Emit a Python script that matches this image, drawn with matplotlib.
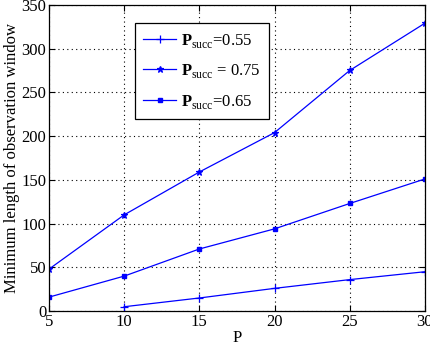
import matplotlib
matplotlib.use("Agg")
import matplotlib.pyplot as plt

plt.rcParams['font.family'] = ['Liberation Serif', 'DejaVu Serif']
plt.rcParams['mathtext.fontset'] = 'custom'
plt.rcParams['mathtext.rm'] = 'Liberation Serif'
plt.rcParams['mathtext.bf'] = 'Liberation Serif:bold'

# data
p_a = [10, 15, 20, 25, 30]
win_055 = [5, 15, 26, 36, 45]
p_b = [5, 10, 15, 20, 25, 30]
win_075 = [48, 110, 159, 204, 275, 329]
win_065 = [16, 40, 71, 94, 123, 151]

fig = plt.figure(figsize=(4.3, 3.48), dpi=100)
ax = fig.add_axes([0.114, 0.106, 0.874, 0.880])

ax.plot(p_a, win_055, color='blue', lw=0.9, marker='+', ms=6, mew=0.9,
        label=r'$\mathbf{P}_{\rm succ}$=0.55')
ax.plot(p_b, win_075, color='blue', lw=0.9, marker='*', ms=5, mew=0.9,
        label=r'$\mathbf{P}_{\rm succ}$ = 0.75')
ax.plot(p_b, win_065, color='blue', lw=0.9, marker='s', ms=3,
        label=r'$\mathbf{P}_{\rm succ}$=0.65')

ax.set_xlim(5, 30)
ax.set_ylim(0, 350)
ax.set_xticks([5, 10, 15, 20, 25, 30])
ax.set_yticks(range(0, 351, 50))
ax.grid(True, color='black', linestyle=(0, (1, 3)), lw=0.8)
ax.tick_params(direction='in', length=4, labelsize=12, top=True, right=True)
ax.tick_params(axis='x', pad=2)
ax.tick_params(axis='y', pad=2)
for s in ax.spines.values():
    s.set_linewidth(0.9)

ax.set_xlabel('P', fontsize=12, labelpad=0)
ax.set_ylabel('Minimum length of observation window', fontsize=12, labelpad=1)

leg = ax.legend(loc='upper left', bbox_to_anchor=(0.228, 0.94), fontsize=12,
                fancybox=False, edgecolor='black', framealpha=1,
                handlelength=2.0, borderpad=0.5, labelspacing=0.75,
                handletextpad=0.3, borderaxespad=0)
leg.get_frame().set_linewidth(0.9)

fig.savefig('out.png', dpi=100)
